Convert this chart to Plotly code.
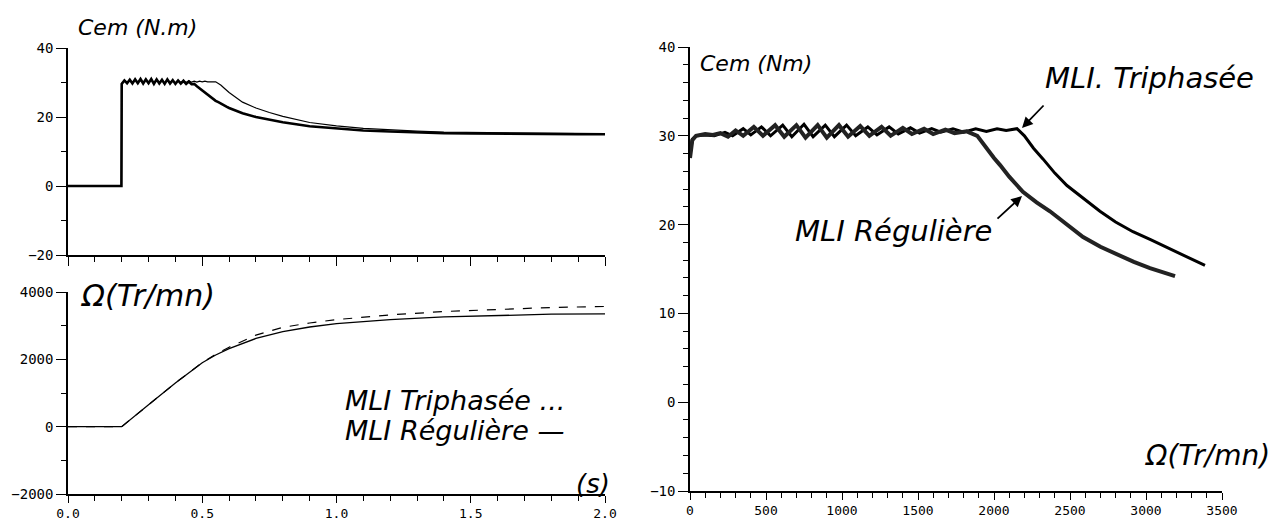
import plotly.graph_objects as go

# ---------------- data ----------------
# Left-top: electromagnetic torque vs time
t_cem = [0.0, 0.199, 0.2, 0.21, 0.22, 0.23, 0.24, 0.25, 0.26, 0.27, 0.28, 0.29,
         0.30, 0.31, 0.32, 0.33, 0.34, 0.35, 0.36, 0.37, 0.38, 0.39, 0.40, 0.41,
         0.42, 0.43, 0.44, 0.45, 0.46, 0.47, 0.48, 0.49, 0.50, 0.51, 0.52, 0.53,
         0.54, 0.55, 0.56, 0.57, 0.58, 0.59, 0.60, 0.65, 0.70, 0.75, 0.80, 0.90,
         1.00, 1.10, 1.20, 1.30, 1.40, 1.50, 1.60, 1.70, 1.80, 1.90, 2.00]
cem_reguliere = [0, 0, 29.6, 30.6, 29.8, 30.8, 29.7, 30.9, 29.8, 31.0, 29.7, 30.9,
                 29.8, 31.0, 29.6, 30.9, 29.7, 30.8, 29.6, 30.9, 29.7, 30.7, 29.6, 30.6,
                 29.7, 30.5, 29.6, 30.3, 29.5, 29.6, 28.9, 28.3, 27.6, 27.0, 26.3, 25.8,
                 25.2, 24.7, 24.3, 23.8, 23.4, 23.0, 22.6, 21.1, 20.0, 19.2, 18.5, 17.3,
                 16.6, 16.1, 15.8, 15.5, 15.3, 15.2, 15.1, 15.1, 15.0, 15.0, 15.0]
cem_triphasee = [0, 0, 29.8, 30.4, 30.0, 30.7, 29.9, 30.8, 30.0, 30.9, 29.9, 30.8,
                 30.0, 30.9, 29.9, 30.8, 30.0, 30.7, 29.9, 30.8, 30.0, 30.6, 29.9, 30.6,
                 30.0, 30.5, 30.0, 30.5, 30.1, 30.4, 30.1, 30.4, 30.2, 30.4, 30.2, 30.3,
                 30.2, 30.2, 29.8, 29.2, 28.5, 27.8, 27.1, 24.3, 22.6, 21.3, 20.2, 18.4,
                 17.4, 16.7, 16.2, 15.9, 15.6, 15.5, 15.4, 15.3, 15.3, 15.2, 15.2]

# Left-bottom: speed vs time
t_speed = [0.0, 0.2, 0.3, 0.4, 0.5, 0.55, 0.6, 0.7, 0.8, 0.9, 1.0, 1.2, 1.4,
           1.6, 1.8, 2.0]
speed_reguliere = [0, 0, 650, 1300, 1900, 2130, 2320, 2620, 2820, 2960, 3060,
                   3180, 3260, 3310, 3340, 3350]
speed_triphasee = [0, 0, 650, 1300, 1900, 2150, 2360, 2720, 2950, 3080, 3180,
                   3320, 3420, 3490, 3540, 3570]

# Right: torque vs speed
omega_reg = [0, 15, 40, 100, 150, 200, 250, 300, 350, 420, 480, 560, 620, 700,
             760, 840, 900, 980, 1040, 1120, 1180, 1260, 1320, 1400, 1460, 1540,
             1600, 1680, 1740, 1820, 1890, 1950, 2000, 2040, 2100, 2190, 2280,
             2368, 2480, 2586, 2700, 2809, 2920, 3026, 3110, 3191]
cem_omega_reg = [27.5, 29.5, 30.0, 30.2, 30.1, 30.3, 29.9, 30.6, 30.0, 31.0, 30.0,
                 31.2, 29.9, 31.2, 29.8, 31.2, 29.8, 31.2, 29.9, 31.1, 30.0, 31.0,
                 30.0, 30.9, 30.2, 30.8, 30.2, 30.7, 30.3, 30.5, 30.0, 28.6, 27.5,
                 26.7, 25.4, 23.7, 22.5, 21.5, 20.0, 18.6, 17.5, 16.6, 15.8, 15.1,
                 14.7, 14.2]
omega_tri = [0, 15, 40, 100, 160, 230, 280, 350, 400, 470, 530, 610, 670, 750,
             810, 890, 950, 1030, 1090, 1170, 1230, 1310, 1370, 1450, 1510, 1590,
             1650, 1730, 1800, 1880, 1950, 2020, 2080, 2151, 2200, 2260, 2322,
             2400, 2480, 2590, 2697, 2800, 2914, 3030, 3138, 3260, 3388]
cem_omega_tri = [27.8, 29.6, 30.0, 30.1, 30.0, 30.4, 30.0, 30.8, 30.1, 31.0, 30.0,
                 31.2, 29.9, 31.3, 29.9, 31.2, 29.9, 31.2, 30.0, 31.0, 30.1, 31.0,
                 30.2, 30.9, 30.3, 30.8, 30.4, 30.8, 30.4, 30.8, 30.5, 30.8, 30.6,
                 30.8, 30.0, 28.6, 27.4, 25.8, 24.4, 22.9, 21.5, 20.3, 19.2, 18.3,
                 17.4, 16.4, 15.4]

# ---------------- figure ----------------
OFF = 8                      # page body margin
W, H = 1285 - OFF, 527 - OFF
def px_x(p):
    return (p - OFF) / W
def px_y(p):
    return 1 - (p - OFF) / H

fig = go.Figure()

fig.add_trace(go.Scatter(x=t_cem, y=cem_triphasee, mode="lines",
                         line=dict(color="black", width=1.2),
                         xaxis="x", yaxis="y", showlegend=False))
fig.add_trace(go.Scatter(x=t_cem, y=cem_reguliere, mode="lines",
                         line=dict(color="black", width=2.6),
                         xaxis="x", yaxis="y", showlegend=False))
fig.add_trace(go.Scatter(x=t_speed, y=speed_triphasee, mode="lines",
                         line=dict(color="black", width=1.2, dash="dash"),
                         xaxis="x2", yaxis="y2", showlegend=False))
fig.add_trace(go.Scatter(x=t_speed, y=speed_reguliere, mode="lines",
                         line=dict(color="black", width=1.3),
                         xaxis="x2", yaxis="y2", showlegend=False))
fig.add_trace(go.Scatter(x=omega_tri, y=cem_omega_tri, mode="lines",
                         line=dict(color="black", width=3.0),
                         xaxis="x3", yaxis="y3", showlegend=False))
fig.add_trace(go.Scatter(x=omega_reg, y=cem_omega_reg, mode="lines",
                         line=dict(color="#222222", width=4.0),
                         xaxis="x3", yaxis="y3", showlegend=False))

common = dict(showline=True, linecolor="black", linewidth=1.5, mirror=False,
              showgrid=False, zeroline=False, ticks="outside",
              tickwidth=1.3, tickcolor="black", automargin=False)
yfont = dict(family="DejaVu Sans Mono", size=14, color="black")
xfont = dict(family="DejaVu Sans Mono", size=13, color="black")
minor_style = dict(ticks="outside", ticklen=5, tickcolor="black", tickwidth=1.2)

xdom_left = [px_x(68), px_x(605)]
fig.update_layout(
    width=W, height=H, autosize=False,
    margin=dict(l=0, r=0, t=0, b=0, pad=0),
    paper_bgcolor="white", plot_bgcolor="white",
    xaxis=dict(domain=xdom_left, range=[0, 2.0], dtick=0.5, anchor="y",
               showticklabels=False, ticklen=9, tickfont=xfont,
               minor=dict(dtick=0.1, **minor_style), **common),
    yaxis=dict(domain=[px_y(255), px_y(48)], range=[-20, 40], dtick=20, anchor="x",
               ticklen=10, tickfont=yfont,
               minor=dict(dtick=10, **minor_style), **common),
    xaxis2=dict(domain=xdom_left, range=[0, 2.0], dtick=0.5, anchor="y2",
                tickformat=".1f", ticklen=7, tickfont=xfont,
                minor=dict(dtick=0.1, **minor_style), **common),
    yaxis2=dict(domain=[px_y(494), px_y(292)], range=[-2000, 4000], dtick=2000,
                anchor="x2", ticklen=10, tickfont=yfont,
                minor=dict(dtick=1000, **minor_style), **common),
    xaxis3=dict(domain=[px_x(690), px_x(1222)], range=[0, 3500], dtick=500,
                anchor="y3", ticklen=7, tickfont=xfont,
                minor=dict(dtick=100, **minor_style), **common),
    yaxis3=dict(domain=[px_y(491), px_y(47)], range=[-10, 40], dtick=10,
                anchor="x3", ticklen=10, tickfont=yfont,
                minor=dict(dtick=2, **minor_style), **common),
)

def label(text, x, y, size=21, xanchor="left"):
    fig.add_annotation(text=text, x=px_x(x), y=px_y(y), xref="paper", yref="paper",
                       xanchor=xanchor, yanchor="middle", showarrow=False,
                       font=dict(family="DejaVu Sans", size=size, color="black"))

label("<i>Cem (N.m)</i>", 76, 27, size=22)
label("<i>Ω(Tr/mn)</i>", 78, 296, size=30)
label("<i>MLI Triphasée ...</i>", 343, 400, size=27)
label("<i>MLI Régulière —</i>", 343, 430, size=27)
label("<i>(s)</i>", 574, 484, size=26)
label("<i>Cem (Nm)</i>", 698, 64, size=22)
label("<i>MLI. Triphasée</i>", 1043, 78, size=29)
label("<i>MLI Régulière</i>", 793, 231, size=29)
label("<i>Ω(Tr/mn)</i>", 1143, 455, size=28)

# arrows: head in paper coords, tail as pixel offset
fig.add_annotation(x=px_x(1022), y=px_y(128), ax=23, ay=-24,
                   xref="paper", yref="paper",
                   showarrow=True, arrowhead=2, arrowsize=1.2, arrowwidth=1.8,
                   arrowcolor="black", text="")
fig.add_annotation(x=px_x(1022), y=px_y(196), ax=-26, ay=24,
                   xref="paper", yref="paper",
                   showarrow=True, arrowhead=2, arrowsize=1.2, arrowwidth=1.8,
                   arrowcolor="black", text="")

fig.write_html("out.html")
